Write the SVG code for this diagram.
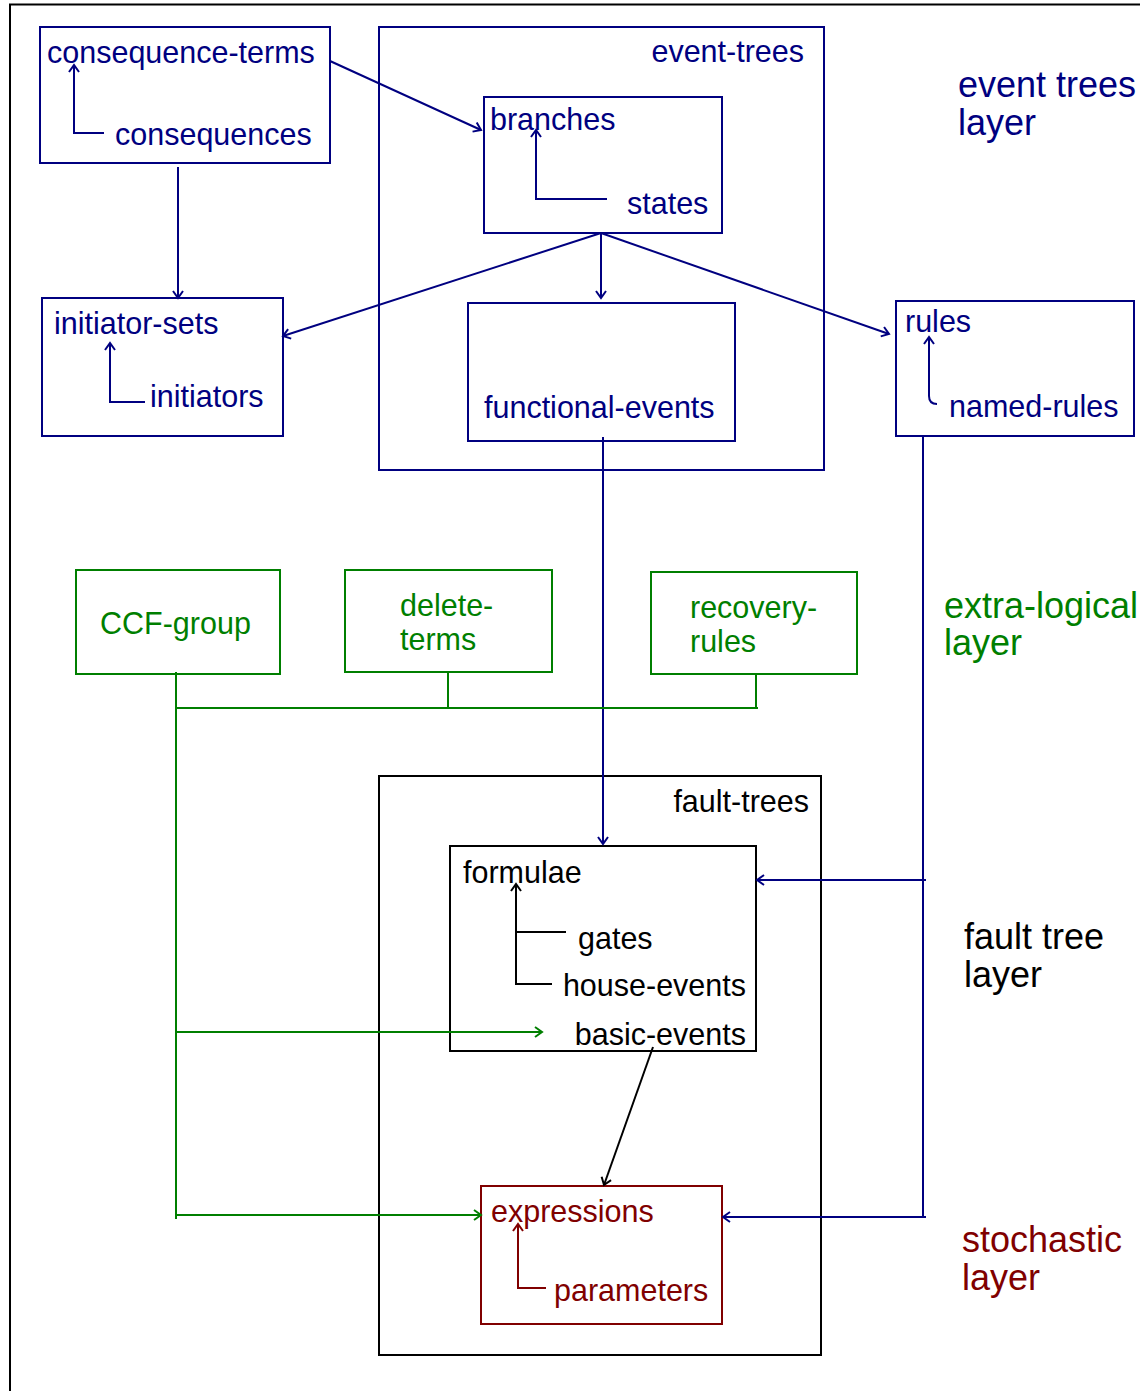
<svg xmlns="http://www.w3.org/2000/svg" width="1140" height="1391" viewBox="0 0 1140 1391">
  <style>
    text { font-family: "Liberation Sans", Arial, Helvetica, sans-serif; font-size: 30.5px; }
    .layer { font-size: 36px; }
    .box { fill: none; stroke-width: 2; }
    .line { fill: none; stroke-width: 2; }
    .navy { stroke: #000080; }
    .green { stroke: #007f00; }
    .red { stroke: #800000; }
    .black { stroke: #000000; }
    .t-navy { fill: #000080; }
    .t-green { fill: #007f00; }
    .t-red { fill: #800000; }
    .t-black { fill: #000000; }
    .end { text-anchor: end; }
  </style>
  <defs>
    <marker id="arr-navy" viewBox="-10 -7 12 14" refX="0" refY="0" markerWidth="12" markerHeight="14" markerUnits="userSpaceOnUse" orient="auto">
      <path d="M-7,-5 L0,0 L-7,5" fill="none" stroke="#000080" stroke-width="2"/>
    </marker>
    <marker id="arr-green" viewBox="-10 -7 12 14" refX="0" refY="0" markerWidth="12" markerHeight="14" markerUnits="userSpaceOnUse" orient="auto">
      <path d="M-7,-5 L0,0 L-7,5" fill="none" stroke="#007f00" stroke-width="2"/>
    </marker>
    <marker id="arr-black" viewBox="-10 -7 12 14" refX="0" refY="0" markerWidth="12" markerHeight="14" markerUnits="userSpaceOnUse" orient="auto">
      <path d="M-7,-5 L0,0 L-7,5" fill="none" stroke="#000000" stroke-width="2"/>
    </marker>
    <marker id="arr-red" viewBox="-10 -7 12 14" refX="0" refY="0" markerWidth="12" markerHeight="14" markerUnits="userSpaceOnUse" orient="auto">
      <path d="M-7,-5 L0,0 L-7,5" fill="none" stroke="#800000" stroke-width="2"/>
    </marker>
  </defs>

  <rect width="1140" height="1391" fill="#ffffff"/>
  <!-- page frame -->
  <path d="M10,1391 V4.5 H1140" fill="none" stroke="#000000" stroke-width="2"/>

  <!-- layer captions -->
  <g id="layer-labels">
    <text class="layer t-navy" x="958" y="97">event trees</text>
    <text class="layer t-navy" x="958" y="135">layer</text>
    <text class="layer t-green" x="944" y="618">extra-logical</text>
    <text class="layer t-green" x="944" y="655">layer</text>
    <text class="layer t-black" x="964" y="949">fault tree</text>
    <text class="layer t-black" x="964" y="987">layer</text>
    <text class="layer t-red" x="962" y="1252">stochastic</text>
    <text class="layer t-red" x="962" y="1290">layer</text>
  </g>

  <!-- containers -->
  <g id="event-trees">
    <rect class="box navy" x="379" y="27" width="445" height="443"/>
    <text class="t-navy end" x="804" y="62">event-trees</text>
  </g>
  <g id="fault-trees">
    <rect class="box black" x="379" y="776" width="442" height="579"/>
    <text class="t-black end" x="809" y="812">fault-trees</text>
  </g>

  <!-- event tree layer nodes -->
  <g id="consequence-terms">
    <rect class="box navy" x="40" y="27" width="290" height="136"/>
    <text class="t-navy" x="47" y="63">consequence-terms</text>
    <text class="t-navy" x="115" y="145">consequences</text>
    <path class="line navy" d="M104,133 H74 V65" marker-end="url(#arr-navy)"/>
  </g>
  <g id="branches">
    <rect class="box navy" x="484" y="97" width="238" height="136"/>
    <text class="t-navy" x="490" y="130">branches</text>
    <text class="t-navy" x="627" y="214">states</text>
    <path class="line navy" d="M607,199 H536 V130" marker-end="url(#arr-navy)"/>
  </g>
  <g id="functional-events">
    <rect class="box navy" x="468" y="303" width="267" height="138"/>
    <text class="t-navy" x="484" y="418">functional-events</text>
  </g>
  <g id="initiator-sets">
    <rect class="box navy" x="42" y="298" width="241" height="138"/>
    <text class="t-navy" x="54" y="334">initiator-sets</text>
    <text class="t-navy" x="150" y="407">initiators</text>
    <path class="line navy" d="M145,402 H110 V343" marker-end="url(#arr-navy)"/>
  </g>
  <g id="rules">
    <rect class="box navy" x="896" y="301" width="238" height="135"/>
    <text class="t-navy" x="905" y="332">rules</text>
    <text class="t-navy" x="949" y="417">named-rules</text>
    <path class="line navy" d="M937,404 Q929,404 929,396 V337" marker-end="url(#arr-navy)"/>
  </g>

  <!-- extra-logical layer nodes -->
  <g id="ccf-group">
    <rect class="box green" x="76" y="570" width="204" height="104"/>
    <text class="t-green" x="100" y="634">CCF-group</text>
  </g>
  <g id="delete-terms">
    <rect class="box green" x="345" y="570" width="207" height="102"/>
    <text class="t-green" x="400" y="616">delete-</text>
    <text class="t-green" x="400" y="650">terms</text>
  </g>
  <g id="recovery-rules">
    <rect class="box green" x="651" y="572" width="206" height="102"/>
    <text class="t-green" x="690" y="618">recovery-</text>
    <text class="t-green" x="690" y="652">rules</text>
  </g>

  <!-- fault tree layer node -->
  <g id="formulae">
    <rect class="box black" x="450" y="846" width="306" height="205"/>
    <text class="t-black" x="463" y="883">formulae</text>
    <text class="t-black" x="578" y="949">gates</text>
    <text class="t-black end" x="746" y="996">house-events</text>
    <text class="t-black end" x="746" y="1045">basic-events</text>
    <path class="line black" d="M552,984 H516 V884" marker-end="url(#arr-black)"/>
    <path class="line black" d="M566,932 H516"/>
  </g>

  <!-- stochastic layer node -->
  <g id="expressions">
    <rect class="box red" x="481" y="1186" width="241" height="138"/>
    <text class="t-red" x="491" y="1222">expressions</text>
    <text class="t-red" x="554" y="1301">parameters</text>
    <path class="line red" d="M546,1288 H518 V1224" marker-end="url(#arr-red)"/>
  </g>

  <!-- connectors -->
  <g id="connectors">
    <path class="line navy" d="M330,61 L481,130" marker-end="url(#arr-navy)"/>
    <path class="line navy" d="M178,167 V298" marker-end="url(#arr-navy)"/>
    <path class="line navy" d="M601,233 L283,336" marker-end="url(#arr-navy)"/>
    <path class="line navy" d="M601,233 V298" stroke-width="1.5" marker-end="url(#arr-navy)"/>
    <path class="line navy" d="M601,233 L889,334" marker-end="url(#arr-navy)"/>
    <path class="line navy" d="M603,437 V844" marker-end="url(#arr-navy)"/>
    <path class="line navy" d="M923,436 V1218"/>
    <path class="line navy" d="M926,880 H757" marker-end="url(#arr-navy)"/>
    <path class="line navy" d="M926,1217 H723" marker-end="url(#arr-navy)"/>

    <path class="line green" d="M176,672 V1219"/>
    <path class="line green" d="M176,708 H758"/>
    <path class="line green" d="M448,672 V708"/>
    <path class="line green" d="M756,674 V708"/>
    <path class="line green" d="M176,1032 H542" marker-end="url(#arr-green)"/>
    <path class="line green" d="M176,1215 H481" marker-end="url(#arr-green)"/>

    <path class="line black" d="M653,1047 L604,1185" marker-end="url(#arr-black)"/>
  </g>
</svg>
